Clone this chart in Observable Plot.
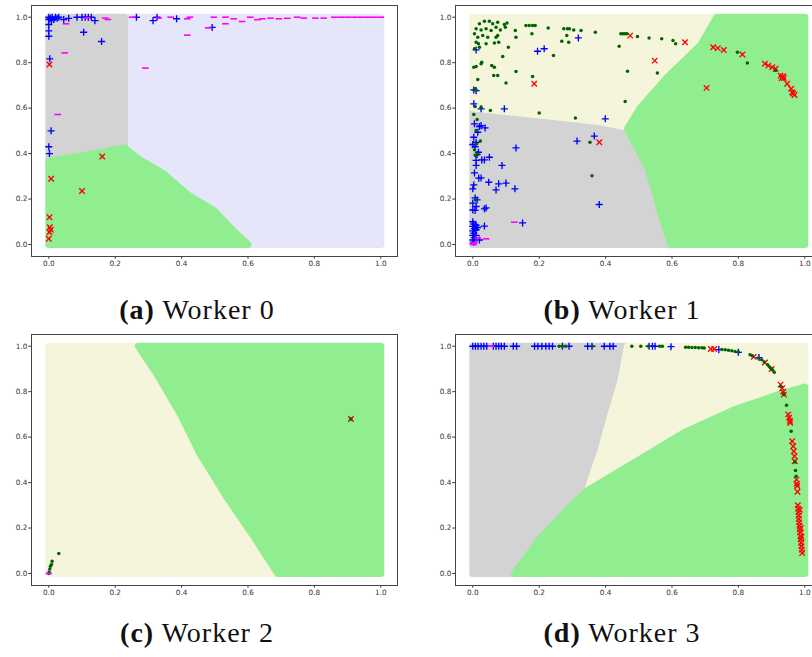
<!DOCTYPE html>
<html>
<head>
<meta charset="utf-8">
<script src="https://cdn.jsdelivr.net/npm/d3@7"></script>
<script src="https://cdn.jsdelivr.net/npm/@observablehq/plot@0.6"></script>
<style>
  html, body { margin: 0; padding: 0; background: #fff; width: 812px; height: 657px; overflow: hidden; }
  #root { position: relative; width: 812px; height: 657px; overflow: hidden; }
  .panel { position: absolute; }
  .cap { position: absolute; width: 300px; text-align: center; font-family: "Liberation Serif", serif; font-size: 28px; letter-spacing: 1px; line-height: 34px; color: #111; white-space: nowrap; }
  .cap b { font-weight: bold; }
</style>
</head>
<body>
<div id="root"></div>
<script>
// ---------- shared ----------
const tickVals = [0, 0.2, 0.4, 0.6, 0.8, 1.0];
const tickLabels = ["0.0", "0.2", "0.4", "0.6", "0.8", "1.0"];
const captions = [["(a)", "Worker 0"], ["(b)", "Worker 1"], ["(c)", "Worker 2"], ["(d)", "Worker 3"]];

// ---------- Worker 0 ----------
const w0Lavender = [[0.228,1],[1,1],[1,0],[0.6,0],[0.556,0.06],[0.497,0.15],[0.417,0.22],[0.347,0.31],[0.276,0.37],[0.228,0.425]];
const w0Gray = [[0,1],[0.228,1],[0.228,0.425],[0.12,0.395],[0,0.367]];
const w0Green = [[0,0],[0.6,0],[0.556,0.06],[0.497,0.15],[0.417,0.22],[0.347,0.31],[0.276,0.37],[0.228,0.425],[0.12,0.395],[0,0.367]];
const w0Plus = [[0,1],[0.005,0.995],[0.01,1],[0.015,0.99],[0.02,1],[0.025,0.995],[0.03,1],[0,0.99],[0.008,0.985],[0.045,0.99],[0.06,0.995],[0.085,1],[0.1,1],[0.11,1],[0.119,1],[0.128,1],[0.139,0.985],[0.105,0.934],[0.159,0.893],[0,0.968],[0,0.94],[0,0.916],[0.003,0.817],[0.007,0.5],[0,0.43],[0.002,0.4],[0.264,1],[0.314,0.985],[0.326,1],[0.385,0.993],[0.492,0.955]];
const w0Times = [[0.002,0.792],[0.161,0.387],[0.007,0.289],[0.1,0.235],[0.002,0.12],[0.003,0.076],[0.006,0.065],[0.002,0.054],[0,0.025]];
const w0Dot = [];
const w0Minus = [[0.048,0.843],[0.052,0.971],[0.027,0.572],[0.291,0.776],[0.417,0.921],[0.48,0.953],[0.532,0.971],[0.115,0.997],[0.17,0.996],[0.178,0.99],[0.251,1],[0.331,0.996],[0.367,1],[0.417,0.993],[0.425,1],[0.497,1],[0.532,1],[0.557,0.993],[0.582,0.981],[0.607,1],[0.628,0.989],[0.643,0.993],[0.668,0.996],[0.693,0.993],[0.718,0.995],[0.748,1],[0.768,0.996],[0.803,0.996],[0.828,0.996],[0.86,1],[0.88,1],[0.9,1],[0.92,1],[0.94,1],[0.96,1],[0.98,1],[1,1]];

// ---------- Worker 1 ----------
const w1Gray = [[0,0],[0.596,0],[0.57,0.12],[0.546,0.25],[0.526,0.34],[0.49,0.44],[0.466,0.51],[0.386,0.54],[0.215,0.567],[0,0.6]];
const w1Beige = [[0,0.6],[0.215,0.567],[0.386,0.54],[0.466,0.515],[0.506,0.604],[0.586,0.736],[0.686,0.877],[0.735,1],[0,1]];
const w1Green = [[0.735,1],[1,1],[1,0],[0.596,0],[0.57,0.12],[0.546,0.25],[0.526,0.34],[0.49,0.44],[0.466,0.51],[0.506,0.604],[0.586,0.736],[0.686,0.877]];
const w1Plus = [[0.01,0.856],[0.195,0.85],[0.215,0.861],[0.318,0.909],[0.003,0.68],[0.01,0.677],[0.003,0.619],[0.025,0.597],[0.095,0.597],[0.399,0.553],[0.005,0.531],[0.02,0.519],[0.025,0.523],[0.037,0.513],[0.015,0.494],[0.003,0.472],[0.01,0.45],[0,0.44],[0.007,0.43],[0.017,0.406],[0.013,0.396],[0.01,0.37],[0.027,0.372],[0.035,0.372],[0.05,0.384],[0.13,0.425],[0.314,0.455],[0.366,0.477],[0.01,0.348],[0.088,0.348],[0.005,0.315],[0.018,0.292],[0.025,0.293],[0.048,0.274],[0.078,0.267],[0.1,0.27],[0.07,0.24],[0.127,0.245],[0.003,0.262],[0,0.245],[0.007,0.205],[0.013,0.196],[0,0.182],[0.01,0.167],[0,0.152],[0.007,0.15],[0.04,0.161],[0.035,0.157],[0.381,0.176],[0,0.1],[0.003,0.09],[0,0.08],[0.005,0.07],[0,0.06],[0.003,0.05],[0,0.04],[0.005,0.03],[0,0.02],[0.003,0.01],[0.01,0.085],[0.015,0.075],[0.01,0.065],[0.035,0.081],[0.15,0.095],[0.02,0.02],[0.01,0.04]];
const w1Times = [[0.474,0.919],[0.639,0.89],[0.185,0.707],[0.548,0.809],[0.381,0.45],[0.724,0.868],[0.738,0.864],[0.756,0.856],[0.812,0.836],[0.704,0.689],[0.88,0.795],[0.89,0.787],[0.902,0.78],[0.912,0.773],[0.927,0.743],[0.932,0.736],[0.937,0.732],[0.93,0.732],[0.935,0.74],[0.947,0.707],[0.959,0.685],[0.962,0.67],[0.965,0.664],[0.969,0.658]];
const w1Dot = [[0.02,0.971],[0.035,0.982],[0.05,0.982],[0.06,0.971],[0.075,0.978],[0.095,0.968],[0.103,0.974],[0.01,0.949],[0.025,0.944],[0.04,0.949],[0.055,0.941],[0.07,0.956],[0.083,0.944],[0.098,0.956],[0.005,0.927],[0.015,0.912],[0.03,0.919],[0.045,0.912],[0.07,0.912],[0.075,0.919],[0.01,0.89],[0.017,0.883],[0.005,0.861],[0.02,0.868],[0.04,0.883],[0.065,0.886],[0.078,0.89],[0.107,0.868],[0.128,0.941],[0.13,0.912],[0.09,0.827],[0.025,0.795],[0.027,0.802],[0.003,0.78],[0.01,0.783],[0.057,0.787],[0.065,0.78],[0.063,0.743],[0.075,0.743],[0.13,0.761],[0.015,0.726],[0.1,0.711],[0.18,0.739],[0.005,0.685],[0.01,0.68],[0.007,0.607],[0.053,0.589],[0.003,0.572],[0.013,0.55],[0.2,0.579],[0.309,0.556],[0.16,0.963],[0.17,0.963],[0.18,0.963],[0.188,0.963],[0.178,0.927],[0.227,0.952],[0.243,0.831],[0.274,0.949],[0.285,0.949],[0.291,0.949],[0.268,0.894],[0.283,0.919],[0.289,0.89],[0.304,0.944],[0.326,0.941],[0.369,0.934],[0.441,0.872],[0.446,0.927],[0.452,0.927],[0.458,0.927],[0.464,0.927],[0.496,0.915],[0.531,0.909],[0.569,0.905],[0.603,0.897],[0.611,0.883],[0.466,0.762],[0.556,0.755],[0.459,0.629],[0.797,0.846],[0.827,0.799],[0.912,0.765],[0.01,0.501],[0.023,0.455],[0.012,0.443],[0.005,0.417],[0.008,0.392],[0.015,0.399],[0.01,0.197],[0.353,0.45],[0.359,0.302],[0.025,0.604]];
const w1Minus = [[0.125,0.098],[0.015,0.029],[0.04,0.025],[0,0.003],[0.003,0],[0.005,0.008]];

// ---------- Worker 2 ----------
const w2Beige = [[0,0],[0.69,0],[0.62,0.157],[0.538,0.333],[0.457,0.523],[0.397,0.7],[0.327,0.875],[0.27,1],[0,1]];
const w2Green = [[0.27,1],[1,1],[1,0],[0.69,0],[0.62,0.157],[0.538,0.333],[0.457,0.523],[0.397,0.7],[0.327,0.875]];
const w2Plus = [];
const w2Times = [[0.91,0.68]];
const w2Dot = [[0.91,0.68],[0,0],[0.001,0.007],[0.003,0.02],[0.005,0.032],[0.008,0.04],[0.01,0.054],[0.03,0.088]];
const w2Minus = [[0,0]];

// ---------- Worker 3 ----------
const w3Gray = [[0,0],[0.125,0],[0.205,0.157],[0.286,0.282],[0.346,0.365],[0.356,0.413],[0.386,0.538],[0.416,0.7],[0.446,0.846],[0.466,1],[0,1]];
const w3Beige = [[0.466,1],[1,1],[1,0.82],[0.937,0.795],[0.787,0.72],[0.636,0.619],[0.486,0.487],[0.346,0.365],[0.356,0.413],[0.386,0.538],[0.416,0.7],[0.446,0.846]];
const w3Green = [[0.125,0],[1,0],[1,0.82],[0.937,0.795],[0.787,0.72],[0.636,0.619],[0.486,0.487],[0.346,0.365],[0.286,0.282],[0.205,0.157]];
const w3Plus = [[0,1],[0.008,1],[0.016,1],[0.025,1],[0.033,1],[0.042,1],[0.062,1],[0.07,1],[0.078,1],[0.086,1],[0.095,1],[0.122,1],[0.132,1],[0.186,1],[0.196,1],[0.208,1],[0.22,1],[0.23,1],[0.24,1],[0.27,1],[0.29,1],[0.346,1],[0.359,1],[0.396,1],[0.413,1],[0.423,1],[0.531,1],[0.541,1],[0.549,1],[0.597,0.998],[0.741,0.985],[0.8,0.973],[0.862,0.95]];
const w3Times = [[0.717,0.988],[0.727,0.988],[0.846,0.953],[0.88,0.928],[0.9,0.9],[0.927,0.831],[0.932,0.815],[0.935,0.8],[0.937,0.787],[0.95,0.7],[0.953,0.685],[0.955,0.672],[0.956,0.663],[0.962,0.582],[0.965,0.56],[0.967,0.538],[0.969,0.516],[0.97,0.494],[0.975,0.413],[0.976,0.395],[0.977,0.385],[0.978,0.36],[0.979,0.3],[0.98,0.285],[0.981,0.27],[0.982,0.255],[0.982,0.24],[0.983,0.225],[0.984,0.21],[0.985,0.195],[0.986,0.18],[0.987,0.165],[0.988,0.15],[0.989,0.135],[0.99,0.12],[0.991,0.105],[0.992,0.09],[0.985,0.28],[0.988,0.2],[0.99,0.16]];
const w3Dot = [[0.26,1],[0.27,1],[0.28,1],[0.36,1],[0.479,1],[0.506,1],[0.529,1],[0.563,1],[0.571,1],[0.641,0.995],[0.65,0.995],[0.66,0.994],[0.67,0.994],[0.68,0.993],[0.69,0.993],[0.697,0.992],[0.75,0.986],[0.76,0.984],[0.77,0.982],[0.78,0.98],[0.79,0.977],[0.8,0.975],[0.835,0.962],[0.842,0.958],[0.86,0.948],[0.87,0.94],[0.878,0.93],[0.888,0.918],[0.893,0.91],[0.898,0.903],[0.903,0.895],[0.908,0.885],[0.927,0.824],[0.937,0.788],[0.945,0.74],[0.959,0.626],[0.97,0.491],[0.972,0.453],[0.974,0.428]];
const w3Minus = [[0.055,1]];

// ---------- colours ----------
const C = {lavender: "lavender", gray: "lightgray", green: "lightgreen", beige: "beige",
           plus: "blue", times: "red", dot: "darkgreen", minus: "magenta"};

const hline = {draw(ctx, size) { const r = Math.sqrt(size / Math.PI); ctx.moveTo(-r, 0); ctx.lineTo(r, 0); }};

const fmt = d => tickLabels[tickVals.indexOf(d)];

function panel(regions, plus, times, dots, minus) {
  const X = d => d[0], Y = d => d[1];
  return Plot.plot({
    width: 406, height: 275,
    marginLeft: 31, marginRight: 9, marginTop: 5, marginBottom: 19,
    x: {domain: [-0.0521, 1.0503], ticks: tickVals, tickFormat: fmt, tickSize: 2.7, tickPadding: 2, label: null},
    y: {domain: [-0.0528, 1.0515], ticks: tickVals, tickFormat: fmt, tickSize: 2.7, tickPadding: 1.5, label: null},
    style: {background: "transparent", fontFamily: "DejaVu Sans, sans-serif", fontSize: "7.3px", color: "#333", overflow: "visible"},
    marks: [
      ...regions.map(([poly, col]) => Plot.line(poly, {x: X, y: Y, curve: "linear-closed", fill: col, stroke: col, strokeWidth: 7, strokeLinejoin: "round"})),
      Plot.dot(plus, {x: X, y: Y, symbol: "plus", r: 2.4, stroke: C.plus, strokeWidth: 1.35, fill: "none"}),
      Plot.dot(times, {x: X, y: Y, symbol: "times", r: 2.6, stroke: C.times, strokeWidth: 1.35, fill: "none"}),
      Plot.dot(dots, {x: X, y: Y, r: 1.75, fill: C.dot, stroke: "none"}),
      Plot.dot(minus, {x: X, y: Y, symbol: hline, r: 3.3, stroke: C.minus, strokeWidth: 1.6, fill: "none"}),
      Plot.frame({stroke: "#444", strokeWidth: 1})
    ]
  });
}

const root = document.getElementById("root");
const panels = [
  {el: panel([[w0Lavender, C.lavender], [w0Gray, C.gray], [w0Green, C.green]], w0Plus, w0Times, w0Dot, w0Minus), left: 0, top: 0},
  {el: panel([[w1Gray, C.gray], [w1Beige, C.beige], [w1Green, C.green]], w1Plus, w1Times, w1Dot, w1Minus), left: 424, top: 0},
  {el: panel([[w2Beige, C.beige], [w2Green, C.green]], w2Plus, w2Times, w2Dot, w2Minus), left: 0, top: 329},
  {el: panel([[w3Gray, C.gray], [w3Beige, C.beige], [w3Green, C.green]], w3Plus, w3Times, w3Dot, w3Minus), left: 424, top: 329}
];
panels.forEach(p => {
  p.el.classList.add("panel");
  p.el.style.left = p.left + "px";
  p.el.style.top = p.top + "px";
  root.appendChild(p.el);
});
const capPos = [[47, 293], [472, 293], [47, 616], [472, 616]];
captions.forEach(([tag, txt], i) => {
  const d = document.createElement("div");
  d.className = "cap";
  d.style.left = capPos[i][0] + "px";
  d.style.top = capPos[i][1] + "px";
  const b = document.createElement("b");
  b.textContent = tag;
  d.appendChild(b);
  d.appendChild(document.createTextNode(" " + txt));
  root.appendChild(d);
});
</script>
</body>
</html>
